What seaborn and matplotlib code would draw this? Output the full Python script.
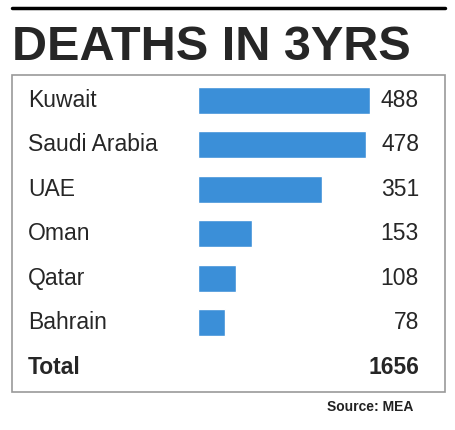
import matplotlib
matplotlib.use("Agg")
import matplotlib.pyplot as plt
import matplotlib.transforms as mtransforms
import seaborn as sns
import pandas as pd

countries = ["Kuwait", "Saudi Arabia", "UAE", "Oman", "Qatar", "Bahrain"]
deaths = [488, 478, 351, 153, 108, 78]
total = 1656
title = "DEATHS IN 3YRS"
source = "Source: MEA"

sns.set_style("white")
plt.rcParams["font.family"] = ["Liberation Sans", "DejaVu Sans"]

W, H = 455, 430
fig = plt.figure(figsize=(W / 100, H / 100), dpi=100)

# top rule and title
fig.add_artist(plt.Line2D([12 / W, 445 / W], [1 - 8 / H, 1 - 8 / H], color="black", lw=2.5))
fig.text(12 / W, 1 - 48 / H, title, fontsize=35, fontweight="bold", va="center", ha="left")

# frame around the table
fig.add_artist(plt.Rectangle((12 / W, 1 - 392 / H), 433 / W, 317 / H, fill=False,
                             edgecolor="#999999", lw=1.2))

# bar axes: rows centred from y=100px to 323px
ax = fig.add_axes([198 / W, 1 - 345 / H, 172 / W, 267 / H])
df = pd.DataFrame({"country": countries, "deaths": deaths})
sns.barplot(data=df, x="deaths", y="country", color="#3b8fd8", saturation=1,
            width=0.6, ax=ax)
ax.set_xlim(0, 488)
ax.set_ylim(5.5, -0.5)
ax.axis("off")

trans = mtransforms.blended_transform_factory(fig.transFigure, ax.transData)
for i, (c, v) in enumerate(zip(countries, deaths)):
    fig.text(28 / W, i, c, transform=trans, fontsize=16.5, va="center", ha="left")
    fig.text(419 / W, i, str(v), transform=trans, fontsize=16.5, va="center", ha="right")
fig.text(28 / W, 6, "Total", transform=trans, fontsize=16.5, fontweight="bold",
         va="center", ha="left")
fig.text(419 / W, 6, str(total), transform=trans, fontsize=16.5, fontweight="bold",
         va="center", ha="right")

fig.text(413 / W, 1 - 407 / H, source, fontsize=10, fontweight="bold",
         va="center", ha="right", color="#222222")

fig.savefig("out.png", dpi=100)
